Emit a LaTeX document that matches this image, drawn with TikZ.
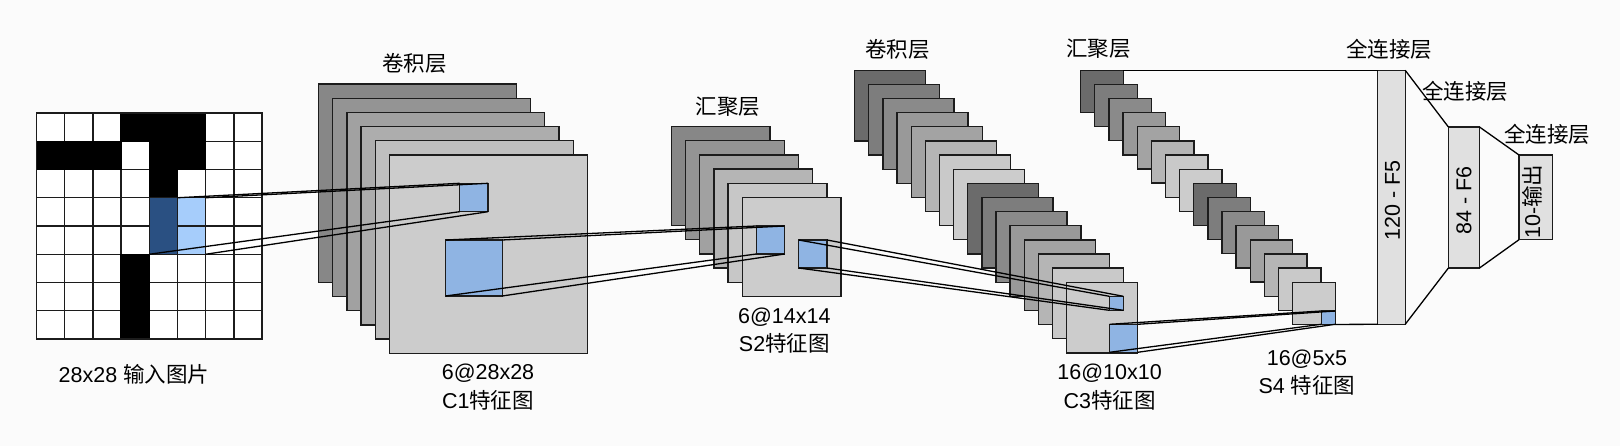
\documentclass[tikz,border=0pt]{standalone}
\usepackage{fontspec}
\setmainfont{Liberation Sans}
\newfontfamily\cjk{Noto Sans CJK SC}
\usepackage{xcolor}
\usepackage{tikz}
\usetikzlibrary{positioning}
\definecolor{bgcol}{HTML}{FBFBFB}
\definecolor{edgecol}{HTML}{1C1C1C}
\definecolor{patchcol}{HTML}{8FB4E3}
\definecolor{lightcol}{HTML}{A6CDFB}
\definecolor{darkcol}{HTML}{2A5082}
\definecolor{fccol}{HTML}{E0E0E0}

\begin{document}
\begin{tikzpicture}[
		x=1pt, y=-1pt,
		% Style definitions
		box/.style={
			rectangle,
			draw=edgecol,
			line width=1.3pt,
			anchor=north west,
			inner sep=0pt,
			outer sep=0pt
		},
		cell/.style={box, fill=white, minimum width=28.2pt, minimum height=28.25pt},
		mapC1/.style={box, minimum width=197.9pt, minimum height=198.3pt},
		mapS2/.style={box, minimum width=98.8pt, minimum height=99pt},
		mapC3/.style={box, minimum width=71pt, minimum height=70.6pt},
		mapS4/.style={box, minimum width=42.5pt, minimum height=42.2pt},
		patch/.style={box, fill=patchcol},
		fc/.style={box, fill=fccol},
		band/.style={line width=1.3pt, black},
		lab/.style={font=\fontsize{21.5}{28.4}\selectfont, align=center, inner sep=0pt}
		]
		\fill[bgcol] (0,0) rectangle (1620,446);
		\useasboundingbox (0,0) rectangle (1620,446);
		
		% Input picture
		\foreach \r in {0,...,7}{
			\foreach \c in {0,...,7}{
				\node[cell] (p\r\c) at ({36.5+\c*28.2},{113+\r*28.25}) {};
			}
		}
		\foreach \n in {03,04,05,10,11,12,14,15,24,53,63,73}{
			\node[cell, fill=black, draw=black] (k\n) at (p\n.north west) {};
		}
		\node[cell, fill=lightcol] (q35) at (p35.north west) {};
		\node[cell, fill=lightcol] (q45) at (p45.north west) {};
		\node[cell, fill=darkcol, minimum height=56.5pt] (rf) at (p34.north west) {};
		\node[box, minimum width=225.6pt, minimum height=226pt] (inp) at (p00.north west) {};
		
		% Feature map stacks
		\foreach \i/\g in {0/47,1/42,2/37,3/32,4/25,5/20}{
			\node[mapC1, fill=black!\g] (C1m\i) at ({318.5+\i*14.2},{84+\i*14.2}) {};
		}
		\foreach \i/\g in {0/47,1/42,2/37,3/29,4/22,5/20}{
			\node[mapS2, fill=black!\g] (S2m\i) at ({671.3+\i*14.2},{126.7+\i*14.13}) {};
		}
		\foreach \i/\g in {0/58,1/51,2/46,3/40,4/36,5/29,6/21,7/20,8/58,9/51,10/46,11/40,12/36,13/29,14/21,15/20}{
			\node[mapC3, fill=black!\g] (C3m\i) at ({854.7+\i*14.13},{70.3+\i*14.13}) {};
			\node[mapS4, fill=black!\g] (S4m\i) at ({1080.7+\i*14.13},{70.3+\i*14.13}) {};
		}
		
		% Blue patches
		\node[patch, minimum width=28.4pt, minimum height=28.4pt] (C1a) at (459.7,183.3) {};
		\node[patch, minimum width=56.6pt, minimum height=56pt] (C1b) at (445.6,240) {};
		\node[patch, minimum width=28.4pt, minimum height=28pt] (S2a) at (756.3,226) {};
		\node[patch, minimum width=28.4pt, minimum height=28pt] (S2b) at (798.7,240) {};
		\node[patch, minimum width=14pt, minimum height=14pt] (C3a) at (1109.3,296.3) {};
		\node[patch, minimum width=28.1pt, minimum height=28pt] (C3b) at (1109.6,324.3) {};
		\node[patch, minimum width=14pt, minimum height=13.3pt] (S4a) at (1321.2,311) {};
		
		% Fully connected layers
		\node[fc, minimum width=27.4pt, minimum height=254pt] (F5) at (1377.8,70.3) {};
		\node[fc, minimum width=31.1pt, minimum height=141pt] (F6) at (1448.4,127) {};
		\node[fc, minimum width=33.8pt, minimum height=84.7pt] (Out) at (1519,155) {};
		
		% Connection lines
		\draw[band] (q35.north west) -- (C1a.north west);
		\draw[band] (q35.north east) -- (C1a.north east);
		\draw[band] (rf.south west) -- (C1a.south west);
		\draw[band] (q45.south east) -- (C1a.south east);
		\draw[band] (C1b.north west) -- (S2a.north west);
		\draw[band] (C1b.north east) -- (S2a.north east);
		\draw[band] (C1b.south west) -- (S2a.south west);
		\draw[band] (C1b.south east) -- (S2a.south east);
		\draw[band] (S2b.north west) -- (C3a.north west);
		\draw[band] (S2b.north east) -- (C3a.north east);
		\draw[band] (S2b.south west) -- (C3a.south west);
		\draw[band] (S2b.south east) -- (C3a.south east);
		\draw[band] (C3b.north west) -- (S4a.north west);
		\draw[band] (C3b.north east) -- (S4a.north east);
		\draw[band] (C3b.south west) -- (S4a.south west);
		\draw[band] (C3b.south east) -- (S4a.south east);
		\draw[band] (S4m0.north east) -- (F5.north west);
		\draw[band] (S4m15.south east) -- (F5.south west);
		\draw[band] (F5.north east) -- (F6.north west);
		\draw[band] (F5.south east) -- (F6.south west);
		\draw[band] (F6.north east) -- (Out.north west);
		\draw[band] (F6.south east) -- (Out.south west);
		
		% Layer names
		\node[lab] (n1) at (414.5,63) {\cjk 卷积层};
		\node[lab] (n2) at (728,106.7) {\cjk 汇聚层};
		\node[lab] (n3) at (897.5,49) {\cjk 卷积层};
		\node[lab] (n4) at (1098.3,49) {\cjk 汇聚层};
		\node[lab] (n5) at (1389,49) {\cjk 全连接层};
		\node[lab] (n6) at (1465,91.7) {\cjk 全连接层};
		\node[lab] (n7) at (1547,134) {\cjk 全连接层};
		
		% Size labels
		\node[lab] (t0) at (134,374) {28x28 {\cjk 输入图片}};
		\node[lab] (t1) at (488,387) {6@28x28\\C1{\cjk 特征图}};
		\node[lab] (t2) at (784.3,330.3) {6@14x14\\S2{\cjk 特征图}};
		\node[lab] (t3) at (1109.6,387) {16@10x10\\C3{\cjk 特征图}};
		\node[lab] (t4) at (1307,372.5) {16@5x5\\S4 {\cjk 特征图}};
		
		% Rotated labels
		\node[lab, rotate=90] (t5) at (1392.5,200.7) {120 - F5};
		\node[lab, rotate=90] (t6) at (1464,200.7) {84 - F6};
		\node[lab, rotate=90] (t7) at (1532,201.7) {10-{\cjk 输出}};
		
	\end{tikzpicture}
\end{document}
